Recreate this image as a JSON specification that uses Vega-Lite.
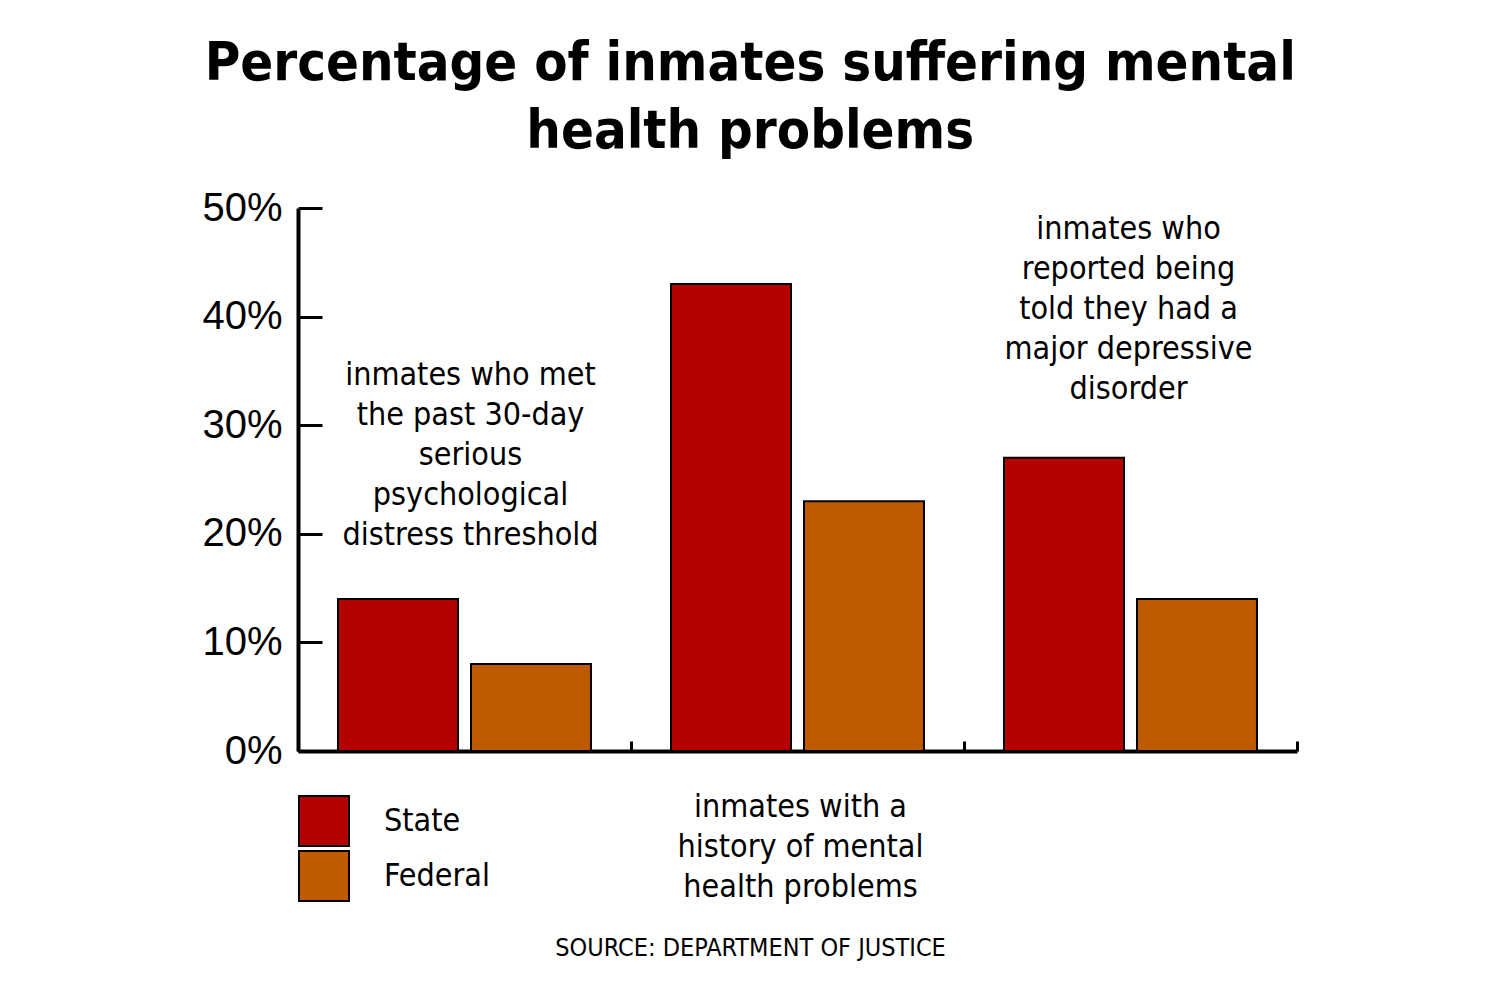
{
  "$schema": "https://vega.github.io/schema/vega-lite/v6.json",
  "width": 999,
  "height": 543,
  "autosize": {"type": "none"},
  "padding": {"left": 298, "top": 208, "right": 203, "bottom": 249},
  "background": "white",
  "title": {
    "text": ["Percentage of inmates suffering mental", "health problems"],
    "font": "DejaVu Sans Condensed, Roboto, sans-serif",
    "fontSize": 54,
    "fontWeight": "bold",
    "lineHeight": 68,
    "color": "black",
    "anchor": "middle",
    "frame": "bounds",
    "offset": 29
  },
  "config": {
    "view": {"stroke": null},
    "font": "DejaVu Sans Condensed, Roboto, sans-serif",
    "legend": {"rowPadding": -6, "padding": 0}
  },
  "data": {
    "values": [
      {"measure": "serious psychological distress", "group": "State", "pct": 14},
      {"measure": "serious psychological distress", "group": "Federal", "pct": 8},
      {"measure": "history of mental health problems", "group": "State", "pct": 43},
      {"measure": "history of mental health problems", "group": "Federal", "pct": 23},
      {"measure": "major depressive disorder", "group": "State", "pct": 27},
      {"measure": "major depressive disorder", "group": "Federal", "pct": 14}
    ]
  },
  "encoding": {
    "x": {
      "field": "measure",
      "type": "nominal",
      "sort": ["serious psychological distress", "history of mental health problems", "major depressive disorder"],
      "scale": {"paddingInner": 0, "paddingOuter": 0},
      "axis": {
        "labels": false,
        "ticks": true,
        "tickBand": "extent",
        "tickSize": -10,
        "tickWidth": 3,
        "tickColor": "black",
        "domainWidth": 4,
        "domainColor": "black",
        "title": "SOURCE: DEPARTMENT OF JUSTICE",
        "titleFont": "DejaVu Sans Condensed, Roboto, sans-serif",
        "titleFontSize": 25,
        "titleFontWeight": "normal",
        "titleColor": "black",
        "titleX": 452,
        "titleY": 204,
        "titleAlign": "center",
        "titleBaseline": "alphabetic"
      }
    }
  },
  "layer": [
    {
      "mark": {"type": "bar", "stroke": "black", "strokeWidth": 2},
      "encoding": {
        "xOffset": {
          "field": "group",
          "type": "nominal",
          "sort": ["State", "Federal"],
          "scale": {"paddingInner": 0.0977, "paddingOuter": 0.301}
        },
        "y": {
          "field": "pct",
          "type": "quantitative",
          "scale": {"domain": [0, 50], "nice": false},
          "axis": {
            "values": [0, 10, 20, 30, 40, 50],
            "labelExpr": "datum.value + '%'",
            "grid": false,
            "title": null,
            "domainWidth": 4,
            "domainColor": "black",
            "tickSize": -24,
            "tickWidth": 3,
            "tickColor": "black",
            "labelFont": "Liberation Sans",
            "labelFontSize": 40,
            "labelColor": "black",
            "labelPadding": 40,
            "labelBaseline": "middle"
          }
        },
        "color": {
          "field": "group",
          "type": "nominal",
          "sort": ["State", "Federal"],
          "scale": {"domain": ["State", "Federal"], "range": ["#b50000", "#bf5a00"]},
          "legend": {
            "title": null,
            "orient": "none",
            "legendX": 0,
            "legendY": 587,
            "symbolType": "square",
            "symbolSize": 2500,
            "symbolStrokeColor": "black",
            "symbolStrokeWidth": 2,
            "symbolOpacity": 1,
            "labelFont": "DejaVu Sans Condensed, Roboto, sans-serif",
            "labelFontSize": 32,
            "labelColor": "black",
            "labelOffset": 34
          }
        }
      }
    },
    {
      "data": {"values": [{"measure": "serious psychological distress", "note": "inmates who met\nthe past 30-day\nserious\npsychological\ndistress threshold"}]},
      "mark": {"type": "text", "fontSize": 32, "lineHeight": 40, "lineBreak": "\n", "baseline": "middle", "align": "center", "dx": 6, "clip": false, "color": "black"},
      "encoding": {"y": {"datum": 34.62, "type": "quantitative"}, "text": {"field": "note"}}
    },
    {
      "data": {"values": [{"measure": "history of mental health problems", "note": "inmates with a\nhistory of mental\nhealth problems"}]},
      "mark": {"type": "text", "fontSize": 32, "lineHeight": 40, "lineBreak": "\n", "baseline": "middle", "align": "center", "dx": 3, "clip": false, "color": "black"},
      "encoding": {"y": {"datum": -5.16, "type": "quantitative"}, "text": {"field": "note"}}
    },
    {
      "data": {"values": [{"measure": "major depressive disorder", "note": "inmates who\nreported being\ntold they had a\nmajor depressive\ndisorder"}]},
      "mark": {"type": "text", "fontSize": 32, "lineHeight": 40, "lineBreak": "\n", "baseline": "middle", "align": "center", "dx": -2, "clip": false, "color": "black"},
      "encoding": {"y": {"datum": 48.07, "type": "quantitative"}, "text": {"field": "note"}}
    }
  ]
}
